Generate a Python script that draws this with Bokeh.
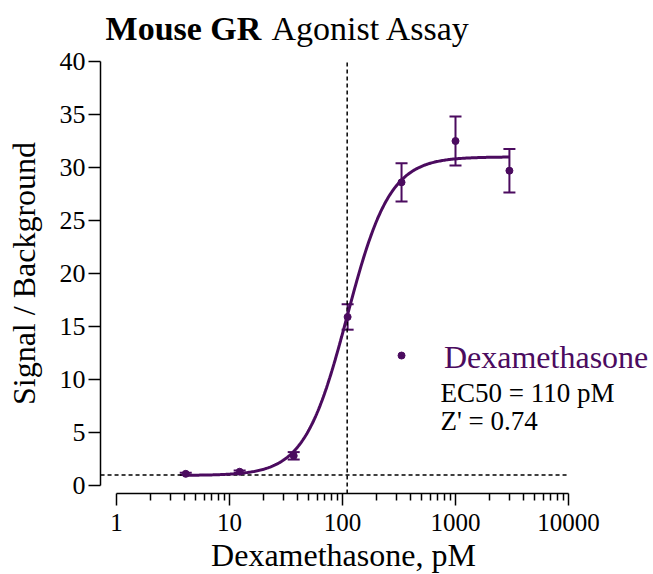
import numpy as np
from bokeh.plotting import figure
from bokeh.models import (Range1d, FixedTicker, NumeralTickFormatter, Label,
                          Whisker, TeeHead, ColumnDataSource)
from bokeh.embed import file_html
from bokeh.resources import INLINE

# ---- data ----
conc_pM = [4.1, 12.3, 37.0, 111.0, 333.0, 1000.0, 3000.0]
signal = [1.1, 1.3, 2.8, 15.9, 28.6, 32.5, 29.7]
sem = [0.1, 0.12, 0.35, 1.2, 1.8, 2.3, 2.05]

# 4-parameter logistic fit reported for the curve
fit_bottom = 0.95
fit_top = 31.0
fit_ec50 = 110.0
fit_hill = 2.3
baseline_level = 1.0

x_ticks = [1, 10, 100, 1000, 10000]
y_ticks = [0, 5, 10, 15, 20, 25, 30, 35, 40]

title_bold = "Mouse GR"
title_rest = "Agonist Assay"
legend_name = "Dexamethasone"
legend_lines = ["EC50 = 110 pM", "Z' = 0.74"]

PURPLE = "#4b0b5f"
FONT = "Liberation Serif"

# plotting region (axes positions) in data units
X_AXIS_AT = -0.755   # y-value where the x axis line sits
Y_AXIS_AT = 0.7225   # x-value where the y axis line sits
X_END = 10000
Y_END = 40

# ---- figure: frame covers the whole canvas, axes are placed at fixed locations ----
p = figure(width=653, height=574, x_axis_type="log",
           x_range=Range1d(0.09407, 56520), y_range=Range1d(-8.396, 45.755),
           output_backend="svg", toolbar_location=None,
           min_border_left=0, min_border_right=0,
           min_border_top=0, min_border_bottom=0)
p.outline_line_color = None
p.grid.visible = False
p.background_fill_color = "white"
p.border_fill_color = "white"

# axes
xa = p.xaxis[0]
xa.fixed_location = X_AXIS_AT
xa.bounds = (1, 10000)
minor = [m * d for d in [1, 10, 100, 1000] for m in range(2, 10)]
xa.ticker = FixedTicker(ticks=x_ticks, minor_ticks=minor)
xa.formatter = NumeralTickFormatter(format="0")
xa.major_tick_out = 12
xa.major_tick_in = 0
xa.minor_tick_out = 7
xa.minor_tick_in = 0
xa.axis_line_width = 1.5
xa.major_tick_line_width = 1.5
xa.minor_tick_line_width = 1.5
xa.major_label_text_font = FONT
xa.major_label_text_font_size = "25px"
xa.major_label_text_color = "black"
xa.major_label_standoff = 8

ya = p.yaxis[0]
ya.fixed_location = Y_AXIS_AT
ya.bounds = (0, 40)
ya.ticker = FixedTicker(ticks=y_ticks, minor_ticks=[])
ya.major_tick_out = 12
ya.major_tick_in = 0
ya.axis_line_width = 1.5
ya.major_tick_line_width = 1.5
ya.major_label_text_font = FONT
ya.major_label_text_font_size = "26px"
ya.major_label_text_color = "black"
ya.major_label_standoff = 3
ya.axis_label = "Signal / Background"
ya.axis_label_text_font = FONT
ya.axis_label_text_font_style = "normal"
ya.axis_label_text_font_size = "32px"
ya.axis_label_text_color = "black"
ya.axis_label_standoff = 15

# reference lines (EC50 and baseline), spanning the plotting region
p.segment(x0=[fit_ec50, Y_AXIS_AT], y0=[X_AXIS_AT, baseline_level],
          x1=[fit_ec50, X_END], y1=[Y_END, baseline_level],
          line_color="black", line_width=1.5, line_dash="4 3")

# fitted curve
xc = np.logspace(np.log10(conc_pM[0]), np.log10(conc_pM[-1]), 300)
yc = fit_bottom + (fit_top - fit_bottom) / (1 + (fit_ec50 / xc) ** fit_hill)
p.line(xc, yc, line_color=PURPLE, line_width=3)

# data + error bars
src = ColumnDataSource(dict(x=conc_pM, y=signal,
                            lo=[s - e for s, e in zip(signal, sem)],
                            hi=[s + e for s, e in zip(signal, sem)]))
p.add_layout(Whisker(source=src, base="x", lower="lo", upper="hi",
                     line_color=PURPLE, line_width=2,
                     upper_head=TeeHead(size=12, line_color=PURPLE, line_width=2),
                     lower_head=TeeHead(size=12, line_color=PURPLE, line_width=2)))
p.scatter("x", "y", source=src, size=7, color=PURPLE)

# legend (manual)
p.scatter([333], [12.26], size=7, color=PURPLE)
p.add_layout(Label(x=790, y=10.39, text=legend_name, text_font=FONT,
                   text_font_size="32px", text_color=PURPLE))
p.add_layout(Label(x=736, y=7.28, text=legend_lines[0], text_font=FONT,
                   text_font_size="27px", text_color="black"))
p.add_layout(Label(x=736, y=4.64, text=legend_lines[1], text_font=FONT,
                   text_font_size="27px", text_color="black"))

# title (mixed bold / normal)
p.add_layout(Label(x=0.8, y=41.39, text=title_bold, text_font=FONT,
                   text_font_size="34px", text_font_style="bold", text_color="black"))
p.add_layout(Label(x=23.5, y=41.39, text=title_rest, text_font=FONT,
                   text_font_size="34px", text_color="black"))

# x axis label
p.add_layout(Label(x=102, y=-8.25, text="Dexamethasone, pM", text_font=FONT,
                   text_font_size="32px", text_align="center", text_color="black"))

open("out.html", "w").write(file_html(p, INLINE))
